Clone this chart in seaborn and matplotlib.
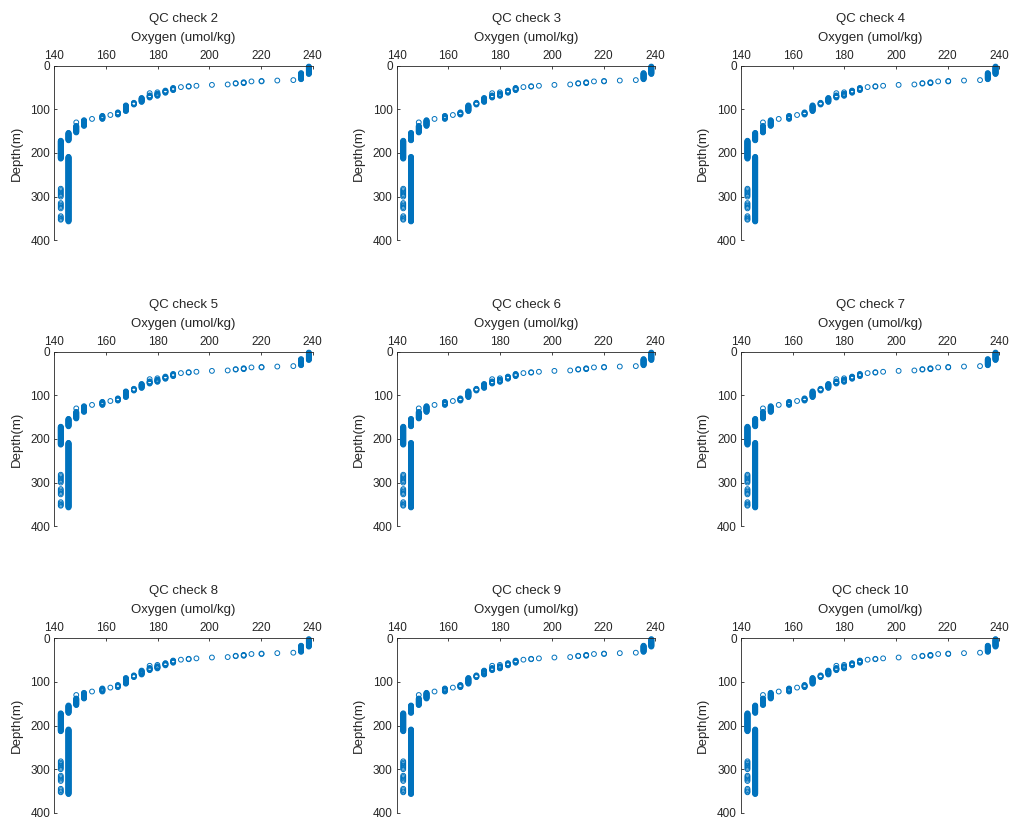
import numpy as np
import pandas as pd
import matplotlib
matplotlib.use("Agg")
import matplotlib.pyplot as plt
import seaborn as sns

sns.set_theme(style="white")
plt.rcParams["font.family"] = ["Liberation Sans", "DejaVu Sans"]

# QC check numbers, one panel each
check_ids = [2, 3, 4, 5, 6, 7, 8, 9, 10]

# Oxygen profile stored as runs of 1-m depth bins that share one reading
run_oxygen = [238.5, 235.5, 232.5, 226.3, 220.2, 216.3, 213.3, 210.2, 207.1,
              201.0, 195.0, 192.0, 189.0, 186.0, 183.0, 179.9, 179.9, 176.9,
              176.9, 173.8, 170.8, 167.7, 164.6, 161.7, 158.6, 154.6, 151.5,
              148.5, 148.5, 145.5, 142.5, 145.5]
run_top = [2, 17, 33, 34, 35, 36, 38, 40, 43,
           44, 46, 47, 49, 51, 57, 61, 64, 63,
           68, 74, 85, 91, 107, 113, 115, 122, 125,
           130, 138, 154, 172, 209]
run_bottom = [19, 31, 33, 34, 36, 36, 40, 41, 43,
              44, 46, 48, 49, 56, 62, 61, 69, 63,
              73, 83, 89, 104, 112, 113, 122, 122, 138,
              130, 153, 171, 213, 357]

# Scattered deep readings at the lowest oxygen level
deep_oxygen = 142.5
deep_depths = [282, 285, 288, 291, 294, 297, 300,
               315, 318, 321, 324, 327,
               345, 348, 351, 353]

# Axis ticks
oxygen_ticks = [140, 160, 180, 200, 220, 240]
depth_ticks = [0, 100, 200, 300, 400]

oxy, dep = [], []
for o, t, b in zip(run_oxygen, run_top, run_bottom):
    d = np.arange(t, b + 1)
    oxy.extend([o] * len(d))
    dep.extend(d.tolist())
oxy.extend([deep_oxygen] * len(deep_depths))
dep.extend(deep_depths)
profile = pd.DataFrame({"oxygen": oxy, "depth": dep})

text_c = "#262626"
mark_c = "#0072BD"

fig = plt.figure(figsize=(10.16, 8.22), dpi=100)
W, H = 1016, 822
lefts = [54.3, 396.8, 741.0]
tops = [65.7, 351.7, 638.3]
aw, ah = 258.4, 174.5

for i, cid in enumerate(check_ids):
    r, c = divmod(i, 3)
    ax = fig.add_axes([lefts[c] / W, 1 - (tops[r] + ah) / H, aw / W, ah / H])
    sns.scatterplot(data=profile, x="oxygen", y="depth", ax=ax,
                    marker="o", s=12, facecolors="none",
                    edgecolor=mark_c, linewidth=0.7, clip_on=False)
    ax.set_xlim(140, 240)
    ax.set_ylim(400, 0)
    ax.set_xticks(oxygen_ticks)
    ax.set_yticks(depth_ticks)
    ax.xaxis.tick_top()
    ax.xaxis.set_label_position("top")
    for side in ("right", "bottom"):
        ax.spines[side].set_visible(False)
    for side in ("left", "top"):
        ax.spines[side].set_color(text_c)
        ax.spines[side].set_linewidth(0.6)
    ax.tick_params(axis="both", direction="in", length=2.2, width=0.6,
                   colors=text_c, labelsize=8.5, pad=3)
    ax.tick_params(axis="x", top=True, bottom=False)
    ax.tick_params(axis="y", left=True, right=False)
    ax.set_xlabel("Oxygen (umol/kg)", fontsize=9.5, color=text_c, labelpad=6.5)
    ax.set_ylabel("Depth(m)", fontsize=9.5, color=text_c, labelpad=5.5)
    ax.set_title(f"QC check {cid}", fontsize=9.5, color=text_c, pad=7)
    ax.set_facecolor("white")

fig.savefig("out.png", dpi=100, facecolor="white")
